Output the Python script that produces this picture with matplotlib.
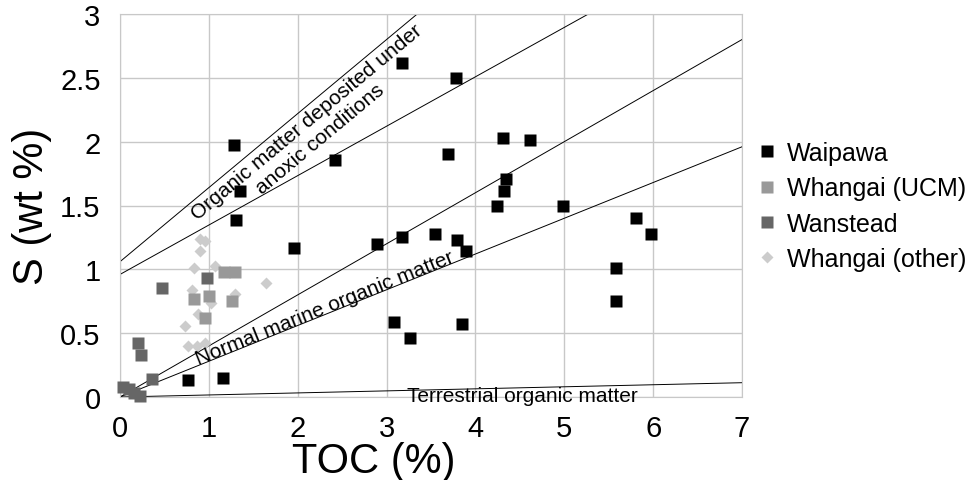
import numpy as np
import matplotlib
matplotlib.use("Agg")
import matplotlib.pyplot as plt

plt.rcParams['font.family'] = ['Liberation Sans', 'DejaVu Sans']

# sample groups: TOC (%) vs S (wt %)
waipawa_toc = [3.17, 3.78, 1.28, 1.35, 1.30, 2.42, 3.69, 4.31, 4.61, 4.34, 4.32, 4.24,
               4.98, 5.81, 5.98, 5.58, 5.58, 2.89, 3.17, 3.54, 3.79, 3.89, 3.08, 3.26,
               3.85, 1.96, 0.77, 1.16]
waipawa_s = [2.62, 2.50, 1.97, 1.61, 1.39, 1.86, 1.90, 2.03, 2.01, 1.71, 1.61, 1.50,
             1.50, 1.40, 1.28, 1.01, 0.75, 1.20, 1.25, 1.28, 1.23, 1.14, 0.59, 0.46,
             0.57, 1.17, 0.13, 0.15]

ucm_toc = [1.17, 1.29, 0.83, 1.00, 1.26, 0.96]
ucm_s = [0.98, 0.98, 0.77, 0.79, 0.75, 0.62]

wanstead_toc = [0.98, 0.47, 0.20, 0.24, 0.36, 0.03, 0.10, 0.16, 0.22]
wanstead_s = [0.93, 0.85, 0.42, 0.33, 0.14, 0.08, 0.06, 0.03, 0.01]

other_toc = [0.90, 0.96, 0.90, 0.83, 1.07, 0.81, 1.29, 1.64, 1.02, 0.88, 0.73,
             0.77, 0.87, 0.96]
other_s = [1.24, 1.22, 1.14, 1.01, 1.03, 0.84, 0.81, 0.89, 0.74, 0.65, 0.56,
           0.40, 0.40, 0.42]

# reference lines S = a + b*TOC
line_a = [1.06, 0.96, 0.0, 0.0, 0.0]
line_b = [0.58, 0.387, 0.40, 0.28, 0.016]

x_ticks = [0, 1, 2, 3, 4, 5, 6, 7]
y_ticks = [0, 0.5, 1, 1.5, 2, 2.5, 3]
y_ticklabels = ['0', '0.5', '1', '1.5', '2', '2.5', '3']

fig = plt.figure(figsize=(9.7, 4.81), dpi=100)
ax = fig.add_axes([120/970, 83/481, 622/970, 383/481])

grid_c = '#c8c8c8'
xx = np.array([0, 7])
for a, b in zip(line_a, line_b):
    ax.plot(xx, a + b*xx, color='black', lw=0.7, zorder=2)

ax.plot(waipawa_toc, waipawa_s, ls='none', marker='s', ms=9, color='black',
        mec='none', label='Waipawa', zorder=3, clip_on=False)
ax.plot(ucm_toc, ucm_s, ls='none', marker='s', ms=9, color='#999999',
        mec='none', label='Whangai (UCM)', zorder=3, clip_on=False)
ax.plot(wanstead_toc, wanstead_s, ls='none', marker='s', ms=9, color='#666666',
        mec='none', label='Wanstead', zorder=3, clip_on=False)
ax.plot(other_toc, other_s, ls='none', marker='D', ms=6.5, color='#cccccc',
        mec='none', label='Whangai (other)', zorder=2.5, clip_on=False)

ax.set_xlim(0, 7)
ax.set_ylim(0, 3)
ax.set_xticks(x_ticks)
ax.set_xticklabels([str(t) for t in x_ticks])
ax.set_yticks(y_ticks)
ax.set_yticklabels(y_ticklabels)
ax.tick_params(length=0, labelsize=21)
ax.tick_params(axis='x', pad=12)
ax.tick_params(axis='y', pad=14)
ax.grid(True, color=grid_c, lw=1)
ax.set_axisbelow(True)
for sp in ax.spines.values():
    sp.set_color(grid_c)

def deg(slope):
    return np.degrees(np.arctan(slope))

ax.text(2.03, line_a[0] + line_b[0]*2.03 - 0.025,
        'Organic matter deposited under\nanoxic conditions',
        fontsize=15, ha='center', va='top', multialignment='center',
        rotation=deg(line_b[0]), rotation_mode='anchor',
        transform_rotates_text=True, linespacing=1.2)
ax.text(2.33, line_b[3]*2.33 + 0.01, 'Normal marine organic matter',
        fontsize=15, ha='center', va='baseline',
        rotation=deg(line_b[3]), rotation_mode='anchor',
        transform_rotates_text=True)
ax.text(4.53, -0.03, 'Terrestrial organic matter', fontsize=15,
        ha='center', va='baseline')

fig.text(32/970, 1 - 206/481, 'S (wt %)', fontsize=30, rotation=90,
         ha='center', va='center')
fig.text(374/970, 1 - 473/481, 'TOC (%)', fontsize=30, ha='center', va='baseline')

fig.legend(loc='center left', bbox_to_anchor=(748/970, 1 - 207/481),
           frameon=False, fontsize=18, numpoints=1, handlelength=0.7,
           handletextpad=0.45, labelspacing=0.45, borderaxespad=0)

fig.savefig('out.png', dpi=100)
